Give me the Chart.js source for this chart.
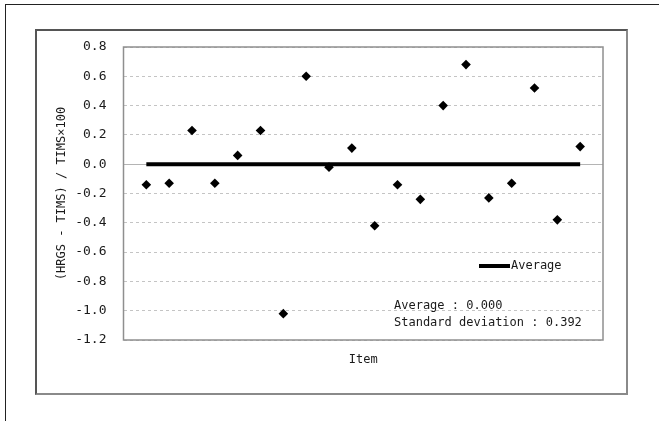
<!DOCTYPE html>
<html>
<head>
<meta charset="utf-8">
<script src="https://cdn.jsdelivr.net/npm/chart.js@4/dist/chart.umd.min.js"></script>
<style>
  html, body { margin: 0; padding: 0; background: #ffffff; }
  #wrap { position: relative; width: 659px; height: 421px; overflow: hidden; background: #fff; }
  #outer { position: absolute; left: 5px; top: 4px; width: 700px; height: 500px; border-left: 1px solid #222; border-top: 1px solid #222; }
  #inner { position: absolute; left: 35px; top: 29px; width: 593px; height: 366px; box-sizing: border-box;
           border: 2px solid; border-color: #555 #8a8a8a #8a8a8a #555; }
  canvas { position: absolute; left: 0; top: 0; }
</style>
</head>
<body>
<div id="wrap">
  <div id="outer"></div>
  <div id="inner"></div>
  <canvas id="c" width="659" height="421"></canvas>
</div>
<script>
// ---- data ----
const itemIndex = [1, 2, 3, 4, 5, 6, 7, 8, 9, 10, 11, 12, 13, 14, 15, 16, 17, 18, 19, 20];
const deviation = [-0.14, -0.13, 0.23, -0.13, 0.06, 0.23, -1.02, 0.60, -0.02, 0.11,
                   -0.42, -0.14, -0.24, 0.40, 0.68, -0.23, -0.13, 0.52, -0.38, 0.12];
const averageValue = 0.0;
const yTickValues = [-1.2, -1.0, -0.8, -0.6, -0.4, -0.2, 0.0, 0.2, 0.4, 0.6, 0.8];
const xRange = [0, 21];
const yTitle = '(HRGS - TIMS) / TIMS\u00d7100';
const xTitle = 'Item';
const averageLabel = 'Average';
const statsText = ['Average : 0.000', 'Standard deviation : 0.392'];

const FONT = "'DejaVu Sans Mono', 'Liberation Mono', monospace";

const pointData = itemIndex.map((x, i) => ({ x: x, y: deviation[i] }));
const avgData = [
  { x: itemIndex[0], y: averageValue },
  { x: itemIndex[itemIndex.length - 1], y: averageValue }
];

const decorPlugin = {
  id: 'decor',
  beforeDatasetsDraw(chart) {
    const { ctx, chartArea: a } = chart;
    ctx.save();
    ctx.strokeStyle = '#8f8f8f';
    ctx.lineWidth = 1.5;
    ctx.strokeRect(a.left, a.top, a.right - a.left, a.bottom - a.top);
    ctx.restore();
  },
  afterDatasetsDraw(chart) {
    const { ctx, chartArea: a } = chart;
    const ds = chart.data.datasets[1];
    ctx.save();
    // legend
    const ly = a.top + 219;
    const lx = a.right - 124;
    ctx.strokeStyle = ds.borderColor;
    ctx.lineWidth = ds.borderWidth;
    ctx.beginPath();
    ctx.moveTo(lx, ly);
    ctx.lineTo(lx + 31, ly);
    ctx.stroke();
    ctx.fillStyle = '#1a1a1a';
    ctx.font = '12px ' + FONT;
    ctx.textBaseline = 'middle';
    ctx.textAlign = 'left';
    ctx.fillText(ds.label, lx + 32, ly);
    // stats
    const sx = a.right - 209;
    ctx.fillText(statsText[0], sx, a.bottom - 34);
    ctx.fillText(statsText[1], sx, a.bottom - 17);
    ctx.restore();
  }
};

new Chart(document.getElementById('c'), {
  type: 'scatter',
  data: {
    datasets: [
      {
        label: 'Deviation',
        data: pointData,
        pointStyle: 'rectRot',
        pointRadius: 4.8,
        pointBackgroundColor: '#000',
        pointBorderWidth: 0,
        showLine: false
      },
      {
        label: averageLabel,
        data: avgData,
        showLine: true,
        borderColor: '#000',
        borderWidth: 4,
        pointRadius: 0
      }
    ]
  },
  options: {
    responsive: false,
    animation: false,
    devicePixelRatio: 1,
    layout: { padding: { left: 0, top: 47, right: 56, bottom: 0 } },
    plugins: { legend: { display: false }, tooltip: { enabled: false } },
    scales: {
      x: {
        type: 'linear',
        min: xRange[0],
        max: xRange[1],
        afterFit(s) { s.height = 81; },
        ticks: { display: false },
        grid: { display: false },
        border: { display: false },
        title: {
          display: true,
          text: xTitle,
          color: '#1a1a1a',
          font: { family: FONT, size: 12 },
          padding: { top: 0, bottom: 54 }
        }
      },
      y: {
        type: 'linear',
        min: yTickValues[0],
        max: yTickValues[yTickValues.length - 1],
        afterFit(s) { s.width = 123.5; },
        afterBuildTicks(s) { s.ticks = yTickValues.map(v => ({ value: v })); },
        ticks: {
          color: '#1a1a1a',
          padding: 17,
          font: { family: FONT, size: 13 },
          callback: v => Number(v).toFixed(1)
        },
        grid: {
          drawTicks: false,
          lineWidth: 1,
          color: c => (c.tick && Math.abs(c.tick.value) < 1e-9) ? '#b4b4b4' : '#c4c4c4'
        },
        border: {
          display: false,
          dash: c => (c.tick && Math.abs(c.tick.value) < 1e-9) ? [] : [3, 3]
        },
        title: {
          display: true,
          text: yTitle,
          color: '#1a1a1a',
          font: { family: FONT, size: 12 },
          padding: { top: 55, bottom: 0 }
        }
      }
    }
  },
  plugins: [decorPlugin]
});
</script>
</body>
</html>
